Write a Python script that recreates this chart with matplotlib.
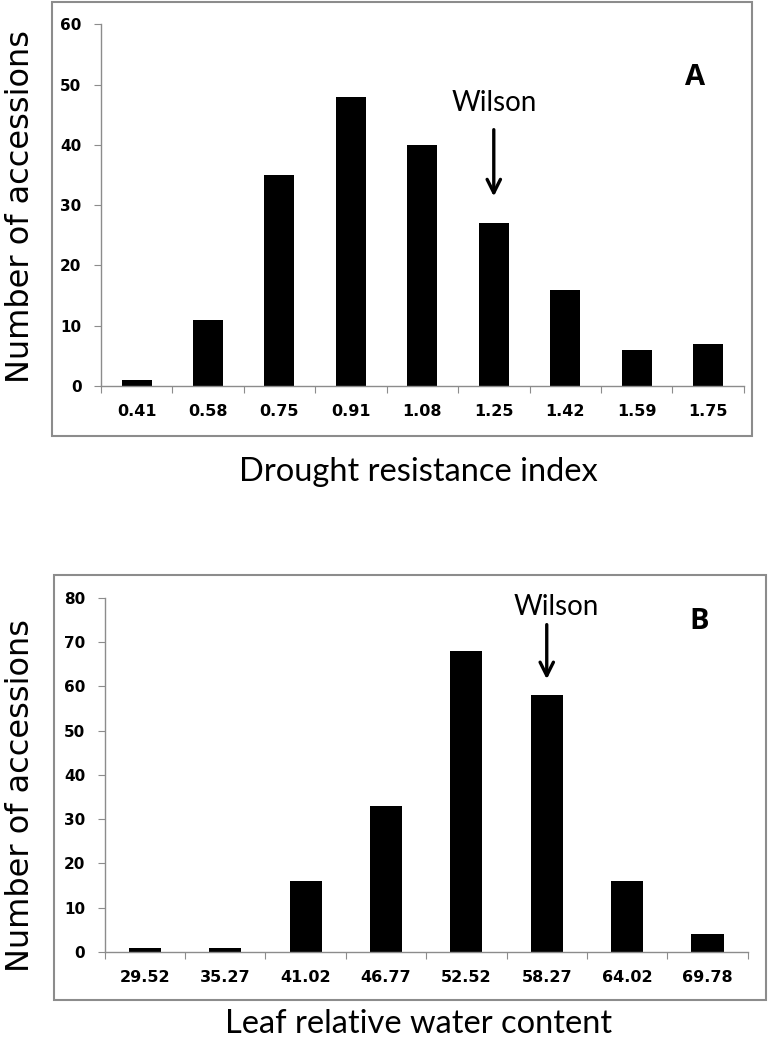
import matplotlib
matplotlib.use('Agg')
import matplotlib.pyplot as plt
from matplotlib.patches import Rectangle

# panel A: drought resistance index
dri_bins = ['0.41', '0.58', '0.75', '0.91', '1.08', '1.25', '1.42', '1.59', '1.75']
dri_counts = [1, 11, 35, 48, 40, 27, 16, 6, 7]

# panel B: leaf relative water content
rwc_bins = ['29.52', '35.27', '41.02', '46.77', '52.52', '58.27', '64.02', '69.78']
rwc_counts = [1, 1, 16, 33, 68, 58, 16, 4]

TICK_FONT = ['Liberation Sans Narrow', 'DejaVu Sans']
LABEL_FONT = ['Lato', 'DejaVu Sans']
GREY = '#8c8c8c'


def panel(fig, rect, box, bins, counts, ymax, ystep, width, xlabel, xlabel_y, ylabel_y,
          wilson, letter):
    ax = fig.add_axes(rect)
    x = list(range(len(bins)))
    ax.bar(x, counts, width=width, color='black')

    ax.set_xlim(-0.5, len(bins) - 0.5)
    ax.set_ylim(0, ymax)
    ax.set_yticks(range(0, ymax + 1, ystep))
    ax.set_xticks([i - 0.5 for i in range(len(bins) + 1)])
    ax.set_xticklabels([])
    ax.set_xticks(x, minor=True)
    ax.set_xticklabels(bins, minor=True, family=TICK_FONT, fontweight='bold', fontsize=11.5)
    ax.tick_params(axis='x', which='minor', length=0, pad=13)
    ax.tick_params(axis='x', which='major', length=5, color=GREY, direction='out')
    ax.tick_params(axis='y', length=5, color=GREY, direction='out', pad=9)
    for lab in ax.get_yticklabels():
        lab.set_family(TICK_FONT)
        lab.set_fontweight('bold')
        lab.set_fontsize(11)
    for s in ['top', 'right']:
        ax.spines[s].set_visible(False)
    for s in ['left', 'bottom']:
        ax.spines[s].set_color(GREY)
        ax.spines[s].set_linewidth(1.0)

    # Wilson arrow
    wx, text_x, text_y, arrow_top, arrow_tip = wilson
    ax.text(text_x, text_y, 'Wilson', ha='center', va='center', fontsize=20, family=LABEL_FONT)
    ax.annotate('', xy=(wx, arrow_tip), xytext=(wx, arrow_top),
                arrowprops=dict(arrowstyle='->', lw=2.4, color='black', mutation_scale=24))

    lx, ly, ltxt = letter
    ax.text(lx, ly, ltxt, ha='center', va='center', fontsize=21, fontweight='bold',
            family=['Open Sans', 'DejaVu Sans'])

    # chart-area frame
    fig.patches.append(Rectangle((box[0], box[1]), box[2], box[3], transform=fig.transFigure,
                                 fill=False, edgecolor=GREY, linewidth=1.5))

    fig.text(0.543, xlabel_y, xlabel, ha='center', va='center', fontsize=23.5, family=LABEL_FONT)
    fig.text(0.026, ylabel_y, 'Number of accessions', ha='center', va='center', rotation=90,
             fontsize=23, family=['DejaVu Sans'])
    return ax


fig = plt.figure(figsize=(7.7, 10.45), dpi=100)

panel(fig, [0.131, 0.6306, 0.835, 0.346], (0.0675, 0.5828, 0.909, 0.415),
      dri_bins, dri_counts, 60, 10, 0.42, 'Drought resistance index', 0.548, 0.802,
      (5, 5.0, 47, 43, 31), (7.82, 51.2, 'A'))

panel(fig, [0.136, 0.0890, 0.835, 0.3388], (0.0701, 0.0431, 0.925, 0.4067),
      rwc_bins, rwc_counts, 80, 10, 0.4, 'Leaf relative water content', 0.020, 0.239,
      (5, 5.12, 78, 74.6, 61), (6.9, 74.6, 'B'))

fig.savefig('out.png', dpi=100)
